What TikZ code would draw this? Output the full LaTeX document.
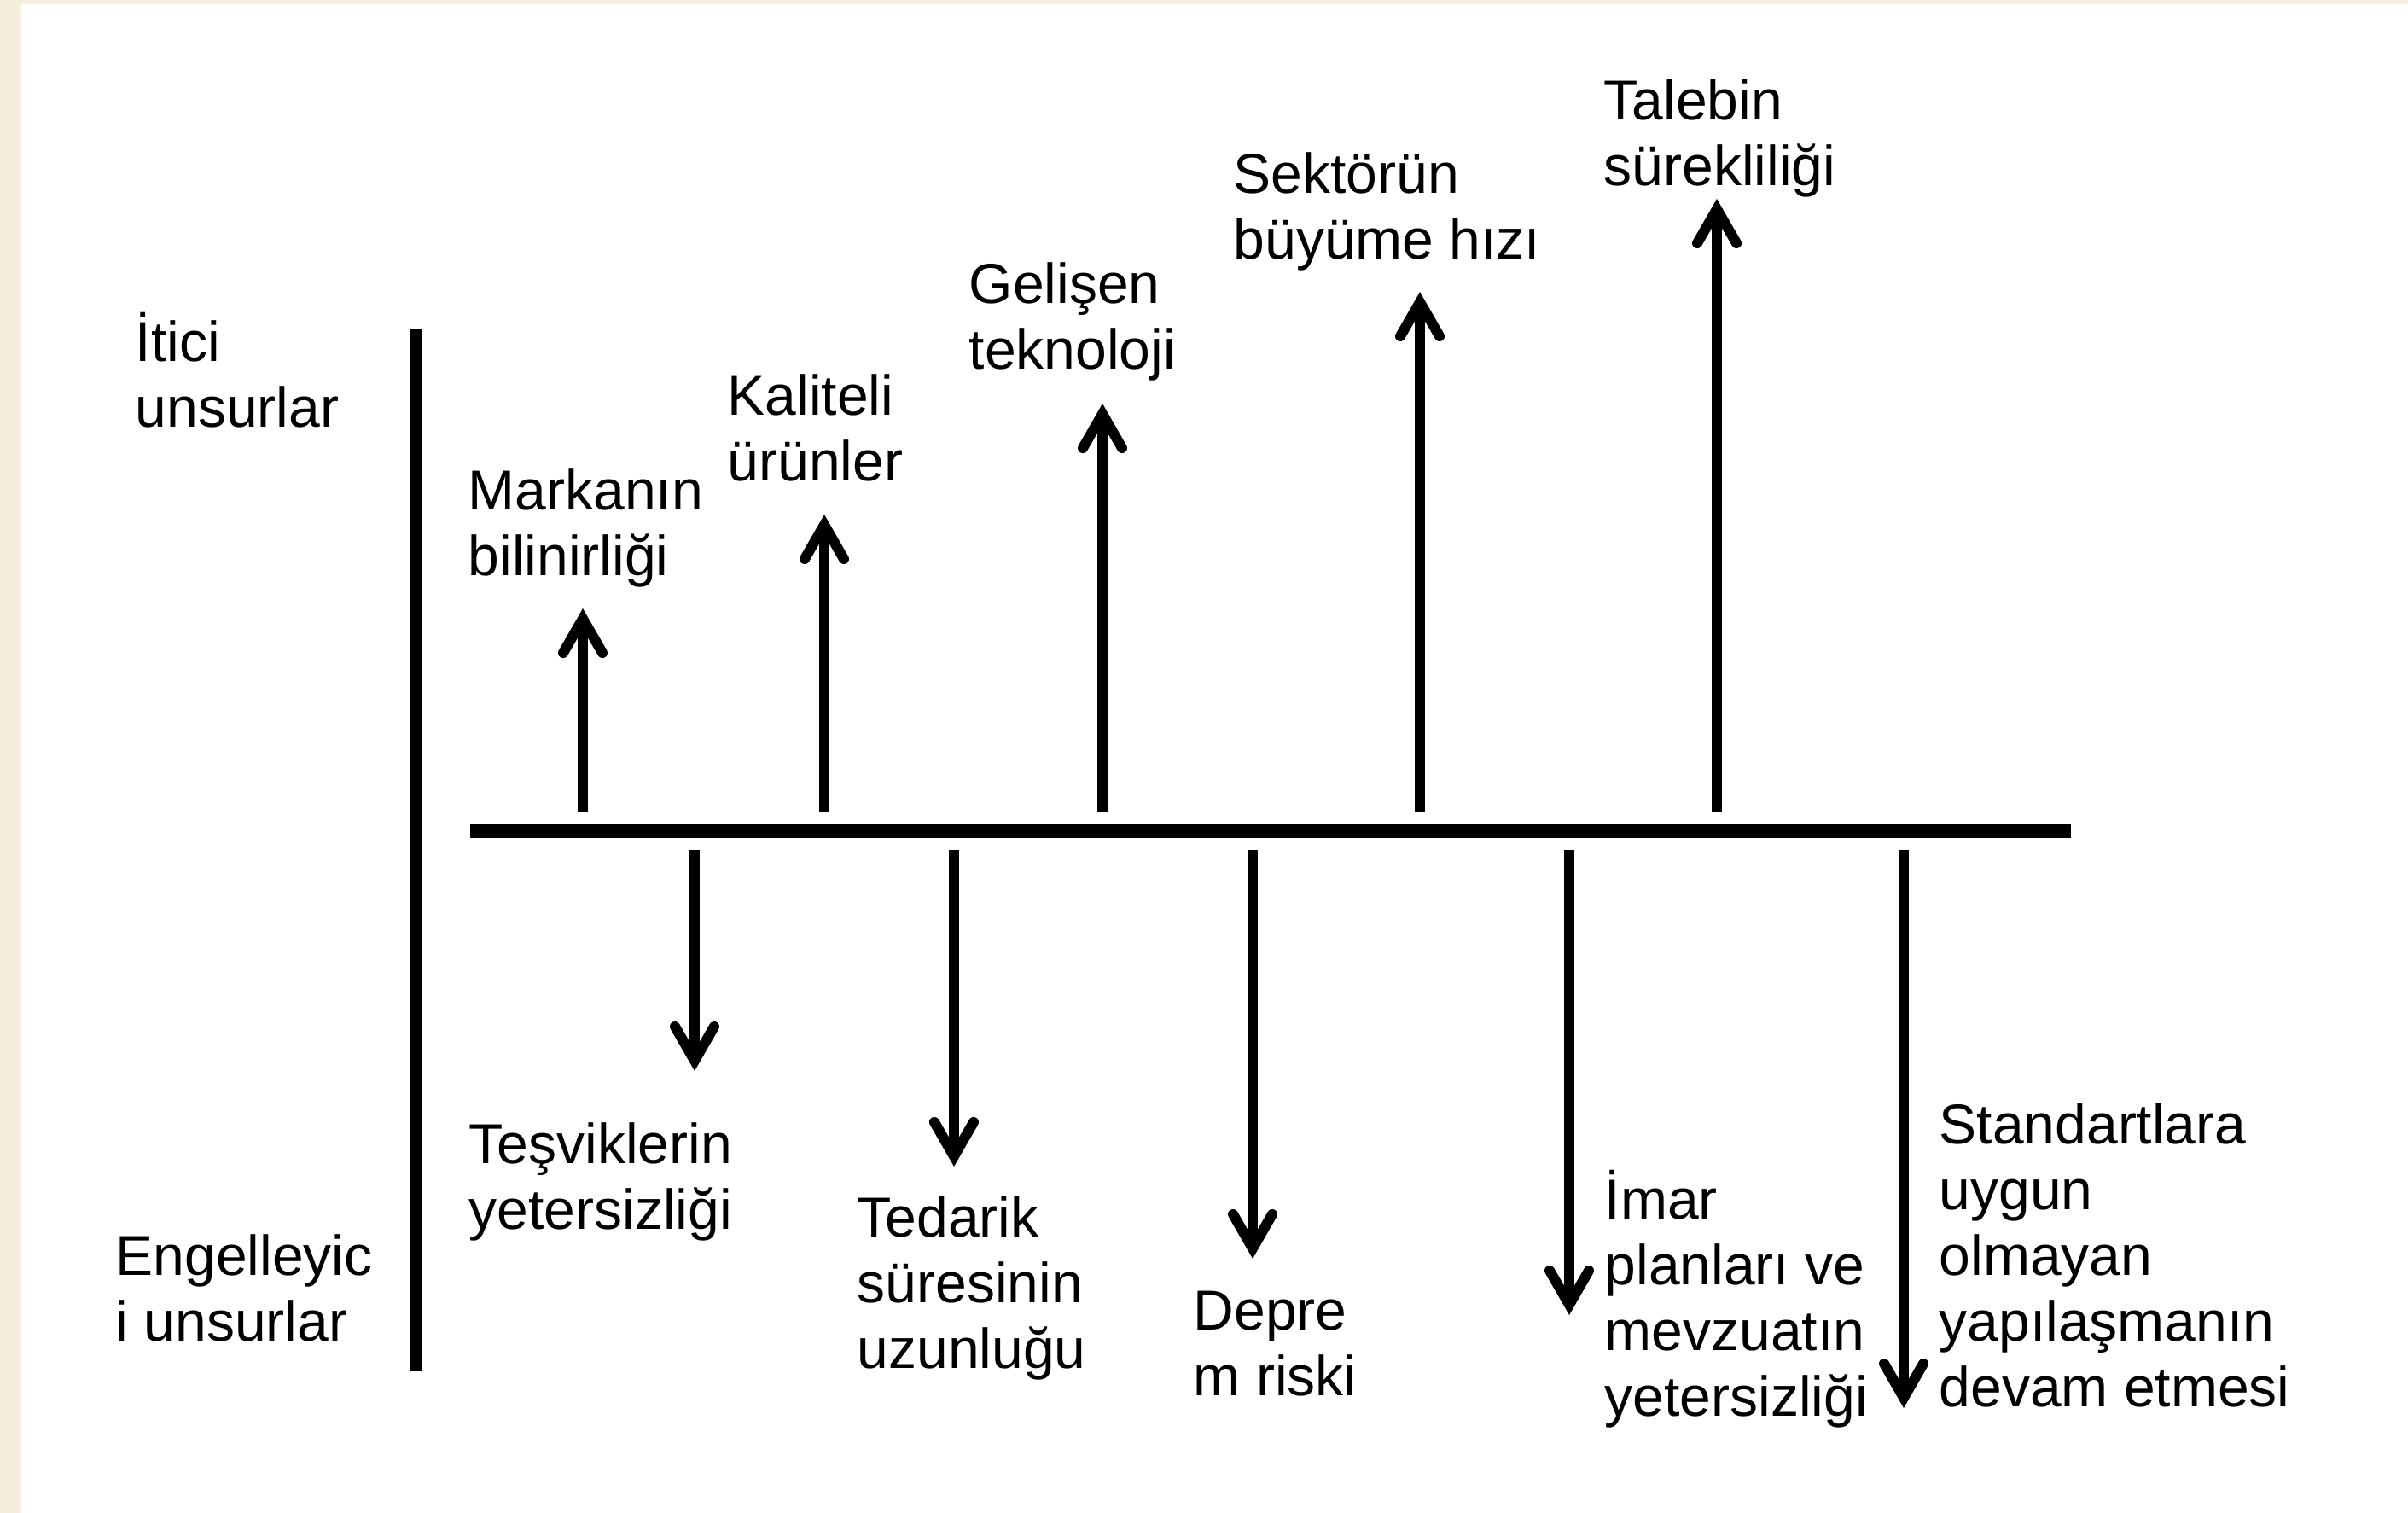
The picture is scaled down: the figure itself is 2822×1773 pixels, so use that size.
\documentclass[tikz,border=0pt]{standalone}
\usepackage{fontspec}
\setmainfont{Liberation Sans}
\usepackage{tikz}
\usetikzlibrary{arrows.meta}
\definecolor{kagit}{RGB}{245,238,223}

\begin{document}
\begin{tikzpicture}[x=0.25pt,y=-0.25pt,
  etiket/.style={anchor=base west,inner sep=0pt,align=left,font=\fontsize{16.5}{19.25}\selectfont},
  ok/.style={line width=3pt,-{Straight Barb[length=10pt,width=11.5pt,line cap=round]}}]
\useasboundingbox (0,0) rectangle (2822,1773);
\fill[kagit] (0,0) rectangle (2822,1773);
\fill[white] (25,5) rectangle (2822,1773);
% eksenler
\coordinate (eksenA) at (551,974);
\coordinate (eksenB) at (2427,974);
\draw[line width=4pt] (eksenA) -- (eksenB);
\coordinate (dikA) at (487,385);
\coordinate (dikB) at (487,1607);
\draw[line width=3.75pt] (dikA) -- (dikB);
% (base = son satir)
\node[etiket] (itici) at (158,501) {İtici\\unsurlar};
\node[etiket] (engel) at (135,1571) {Engelleyic\\i unsurlar};
% itici unsurlar
\node[etiket] (marka) at (548,675) {Markanın\\bilinirliği};
\node[etiket] (kalite) at (852,564) {Kaliteli\\ürünler};
\node[etiket] (teknoloji) at (1135,433) {Gelişen\\teknoloji};
\node[etiket] (sektor) at (1445,304) {Sektörün\\büyüme hızı};
\node[etiket] (talep) at (1879,218) {Talebin\\sürekliliği};
\coordinate (u1) at (683,952); \coordinate (u1t) at (683,713);
\coordinate (u2) at (966,952); \coordinate (u2t) at (966,603);
\coordinate (u3) at (1292,952); \coordinate (u3t) at (1292,473);
\coordinate (u4) at (1664,952); \coordinate (u4t) at (1664,342);
\coordinate (u5) at (2012,952); \coordinate (u5t) at (2012,233);
\draw[ok] (u1) -- (u1t);
\draw[ok] (u2) -- (u2t);
\draw[ok] (u3) -- (u3t);
\draw[ok] (u4) -- (u4t);
\draw[ok] (u5) -- (u5t);
% engelleyici unsurlar
\node[etiket] (tesvik) at (549,1440) {Teşviklerin\\yetersizliği};
\node[etiket] (tedarik) at (1004,1603) {Tedarik\\süresinin\\uzunluğu};
\node[etiket] (deprem) at (1398,1635) {Depre\\m riski};
\node[etiket] (imar) at (1880,1659) {İmar\\planları ve\\mevzuatın\\yetersizliği};
\node[etiket] (standart) at (2272,1648) {Standartlara\\uygun\\olmayan\\yapılaşmanın\\devam etmesi};
\coordinate (d1) at (814,996); \coordinate (d1t) at (814,1255);
\coordinate (d2) at (1118,996); \coordinate (d2t) at (1118,1367);
\coordinate (d3) at (1468,996); \coordinate (d3t) at (1468,1475);
\coordinate (d4) at (1839,996); \coordinate (d4t) at (1839,1541);
\coordinate (d5) at (2231,996); \coordinate (d5t) at (2231,1650);
\draw[ok] (d1) -- (d1t);
\draw[ok] (d2) -- (d2t);
\draw[ok] (d3) -- (d3t);
\draw[ok] (d4) -- (d4t);
\draw[ok] (d5) -- (d5t);
\end{tikzpicture}
\end{document}
